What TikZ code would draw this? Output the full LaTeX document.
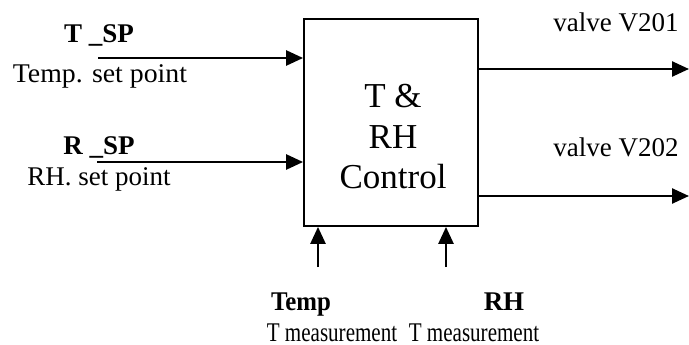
\documentclass[tikz,border=0pt]{standalone}
\usepackage{fontspec}
\setmainfont{Liberation Serif}
\usetikzlibrary{arrows.meta}
\begin{document}
\begin{tikzpicture}[x=1pt,y=-1pt,
  lbl/.style={inner sep=0pt,anchor=base,font=\fontsize{27}{30}\selectfont},
  blbl/.style={lbl,font=\fontsize{27}{30}\selectfont\bfseries},
  boxtxt/.style={inner sep=0pt,anchor=base,font=\fontsize{35}{40}\selectfont},
  sig/.style={line width=2.5pt,-{Triangle[length=17pt,width=15pt]}},
  blockbox/.style={draw,line width=1.8pt,minimum width=174pt,minimum height=207pt,inner sep=0pt}]
\useasboundingbox (0,0) rectangle (689,345);
\node[blockbox] (box) at (391,122.5) {};
\node[boxtxt] (t1) at (393,108) {T \&};
\node[boxtxt] (t2) at (393,148) {RH};
\node[boxtxt] (t3) at (393,188) {Control};
% inputs
\coordinate (tsp) at (98,58);
\coordinate (rsp) at (97,162);
\draw[sig] (tsp) -- (box.west |- tsp);
\draw[sig] (rsp) -- (box.west |- rsp);
\node[blbl] (tspl) at (99,43) {T \_SP};
\node[lbl] (tspd) at (100,83) {\scalebox{1.03}[1]{Temp. set point}};
\node[blbl] (rspl) at (99,154) {R \_SP};
\node[lbl] (rspd) at (99,185) {RH. set point};
% outputs
\coordinate (v1) at (689,69);
\coordinate (v2) at (689,196);
\draw[sig] (box.east |- v1) -- (v1);
\draw[sig] (box.east |- v2) -- (v2);
\node[lbl] (v1l) at (616,32) {valve V201};
\node[lbl] (v2l) at (616,157) {valve V202};
% measurements
\coordinate (mt) at (318,267);
\coordinate (mr) at (446,267);
\draw[sig] (mt) -- (box.south -| mt);
\draw[sig] (mr) -- (box.south -| mr);
\node[blbl] (templ) at (301,310) {\scalebox{0.92}[1]{Temp}};
\node[blbl] (rhl) at (504,310) {RH};
\node[lbl] (tm1) at (332,341) {\scalebox{0.78}[1]{T measurement}};
\node[lbl] (tm2) at (474,341) {\scalebox{0.78}[1]{T measurement}};
\end{tikzpicture}
\end{document}
